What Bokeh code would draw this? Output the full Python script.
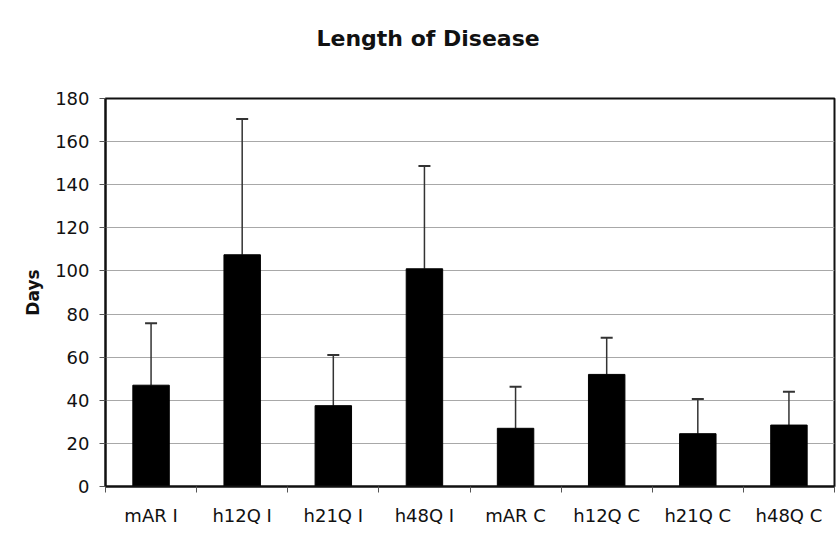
from bokeh.plotting import figure
from bokeh.models import (ColumnDataSource, Range1d, FixedTicker, Whisker, TeeHead)
from bokeh.embed import file_html
from bokeh.resources import INLINE

categories = ["mAR I", "h12Q I", "h21Q I", "h48Q I", "mAR C", "h12Q C", "h21Q C", "h48Q C"]
means = [47.0, 107.5, 37.5, 101.0, 27.0, 52.0, 24.5, 28.5]
errors = [28.7, 63.0, 23.5, 47.7, 19.3, 17.0, 16.1, 15.5]
y_ticks = [0, 20, 40, 60, 80, 100, 120, 140, 160, 180]

xs = [i + 0.5 for i in range(len(categories))]
src = ColumnDataSource(dict(
    x=xs, mean=means,
    upper=[m + e for m, e in zip(means, errors)],
))

FONT = "DejaVu Sans"

p = figure(width=839, height=544, output_backend="svg", toolbar_location=None,
           x_range=Range1d(0, len(categories)), y_range=Range1d(0, 180),
           min_border_left=105, min_border_right=5, min_border_top=98, min_border_bottom=58)
p.background_fill_color = "white"
p.border_fill_color = "white"
p.outline_line_color = "#111111"
p.outline_line_width = 2

p.title.text = "Length of Disease\n "
p.title.align = "left"
p.title.offset = 211
p.title.standoff = 45
p.title.text_font = FONT
p.title.text_font_size = "22px"
p.title.text_font_style = "bold"
p.title.text_color = "#111111"

p.vbar(x="x", top="mean", width=0.4, bottom=0, source=src,
       fill_color="black", line_color="black")

w = Whisker(base="x", lower="mean", upper="upper", source=src,
            line_color="#333333", line_width=1.5,
            upper_head=TeeHead(size=12, line_color="#333333", line_width=2),
            lower_head=None)
p.add_layout(w)

# x axis
p.xaxis.ticker = FixedTicker(ticks=xs, minor_ticks=list(range(len(categories) + 1)))
p.xaxis.major_label_overrides = {x: c for x, c in zip(xs, categories)}
p.xaxis.major_tick_out = 0
p.xaxis.major_tick_in = 0
p.xaxis.minor_tick_out = 6
p.xaxis.minor_tick_in = 0
p.xaxis.minor_tick_line_color = "#555555"
p.xaxis.axis_line_color = "#111111"
p.xaxis.axis_line_width = 2
p.xaxis.major_label_text_font = FONT
p.xaxis.major_label_text_font_size = "18px"
p.xaxis.major_label_text_color = "#111111"
p.xaxis.major_label_standoff = 12

# y axis
p.yaxis.ticker = FixedTicker(ticks=y_ticks, minor_ticks=[])
p.yaxis.major_tick_out = 6
p.yaxis.major_tick_in = 0
p.yaxis.major_tick_line_color = "#555555"
p.yaxis.axis_line_color = "#111111"
p.yaxis.axis_line_width = 2
p.yaxis.major_label_text_font = FONT
p.yaxis.major_label_text_font_size = "18px"
p.yaxis.major_label_text_color = "#111111"
p.yaxis.major_label_standoff = 10
p.yaxis.axis_label = "Days"
p.yaxis.axis_label_text_font = FONT
p.yaxis.axis_label_text_font_size = "17px"
p.yaxis.axis_label_text_font_style = "bold"
p.yaxis.axis_label_text_color = "#111111"
p.yaxis.axis_label_standoff = 9

p.xgrid.grid_line_color = None
p.ygrid.grid_line_color = "#a8a8a8"
p.ygrid.grid_line_width = 1

open("out.html", "w").write(file_html(p, INLINE))
